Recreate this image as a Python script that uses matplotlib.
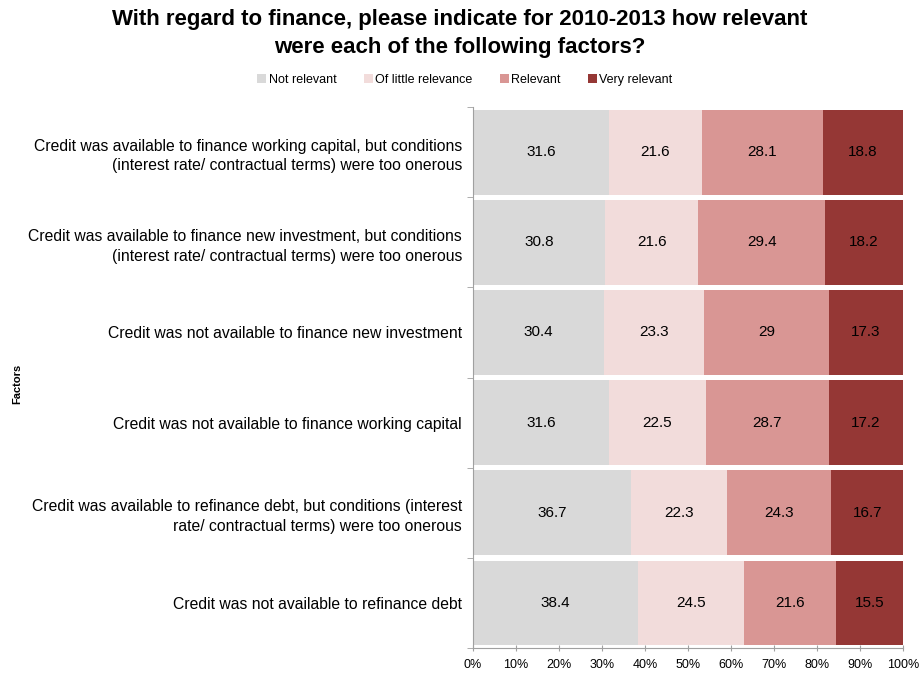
import numpy as np
import matplotlib
matplotlib.use("Agg")
from matplotlib import pyplot as plt
from matplotlib.ticker import FuncFormatter

plt.rcParams['font.family'] = ['Liberation Sans', 'DejaVu Sans']

factors = [
    "Credit was available to finance working capital, but conditions\n(interest rate/ contractual terms) were too onerous",
    "Credit was available to finance new investment, but conditions\n(interest rate/ contractual terms) were too onerous",
    "Credit was not available to finance new investment",
    "Credit was not available to finance working capital",
    "Credit was available to refinance debt, but conditions (interest\nrate/ contractual terms) were too onerous",
    "Credit was not available to refinance debt",
]
not_relevant = [31.6, 30.8, 30.4, 31.6, 36.7, 38.4]
little_relevance = [21.6, 21.6, 23.3, 22.5, 22.3, 24.5]
relevant = [28.1, 29.4, 29, 28.7, 24.3, 21.6]
very_relevant = [18.8, 18.2, 17.3, 17.2, 16.7, 15.5]

series = [
    ("Not relevant", not_relevant, "#D9D9D9"),
    ("Of little relevance", little_relevance, "#F2DCDB"),
    ("Relevant", relevant, "#D99694"),
    ("Very relevant", very_relevant, "#953735"),
]

fig = plt.figure(figsize=(9.19, 6.77), dpi=100)
ax = fig.add_axes([0.5147, 0.0428, 0.468, 0.799])

y = np.arange(len(factors))
left = np.zeros(len(factors))
for name, vals, col in series:
    vals = np.array(vals, dtype=float)
    ax.barh(y, vals, left=left, height=0.94, color=col, label=name, edgecolor='none')
    for yi, (l, v) in enumerate(zip(left, vals)):
        ax.text(l + v / 2, yi, f"{v:g}", ha='center', va='center', fontsize=11, color='black')
    left += vals

ax.set_xlim(0, 100)
ax.set_ylim(len(factors) - 0.5, -0.5)
ax.set_xticks(np.arange(0, 101, 10))
ax.xaxis.set_major_formatter(FuncFormatter(lambda v, p: f"{v:.0f}%"))
ax.set_yticks(y)
ax.set_yticklabels(factors, fontsize=11.3, linespacing=1.4)
ax.set_yticks(np.arange(-0.5, len(factors)), minor=True)
ax.tick_params(axis='y', which='major', length=0, pad=8)
ax.tick_params(axis='y', which='minor', length=4, color='#A0A0A0', direction='out')
ax.tick_params(axis='x', length=4, color='#A0A0A0', direction='inout', labelsize=9, pad=6)
for lbl in ax.get_yticklabels():
    lbl.set_multialignment('right')

for s in ['top', 'right']:
    ax.spines[s].set_visible(False)
for s in ['left', 'bottom']:
    ax.spines[s].set_color('#A0A0A0')

# axis title sits at the far left edge of the figure
fig.text(17 / 919, 1 - 384 / 677, "Factors", rotation=90, fontsize=8, fontweight='bold',
         ha='center', va='center')

fig.text(0.5, 0.986, "With regard to finance, please indicate for 2010-2013 how relevant\nwere each of the following factors?",
         ha='center', va='top', fontsize=16, fontweight='bold', linespacing=1.38)

fig.legend(loc='center', bbox_to_anchor=(465 / 919, 1 - 80 / 677), ncol=4, frameon=False,
           fontsize=9, handlelength=0.7, handleheight=0.7, handletextpad=0.2, columnspacing=2.2)

fig.savefig("out.png", dpi=100)
